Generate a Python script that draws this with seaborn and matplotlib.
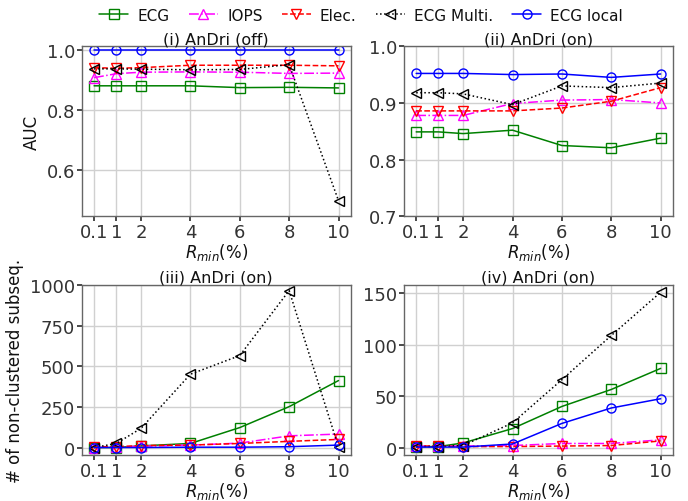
import matplotlib
matplotlib.use("Agg")
import matplotlib.pyplot as plt
import seaborn as sns
import numpy as np

r_min = [0.1, 1, 2, 4, 6, 8, 10]
tick_labels = ["0.1", "1", "2", "4", "6", "8", "10"]
series_names = ["ECG", "IOPS", "Elec.", "ECG Multi.", "ECG local"]

# (i) AUC, AnDri off
auc_off = {
    "ECG":        [0.880, 0.880, 0.880, 0.880, 0.874, 0.875, 0.873],
    "IOPS":       [0.907, 0.920, 0.925, 0.926, 0.925, 0.921, 0.922],
    "Elec.":      [0.940, 0.938, 0.940, 0.948, 0.948, 0.948, 0.946],
    "ECG Multi.": [0.936, 0.936, 0.935, 0.933, 0.934, 0.950, 0.500],
    "ECG local":  [0.997, 0.997, 0.997, 0.997, 0.997, 0.997, 0.997],
}
# (ii) AUC, AnDri on
auc_on = {
    "ECG":        [0.849, 0.849, 0.846, 0.852, 0.825, 0.821, 0.838],
    "IOPS":       [0.878, 0.878, 0.878, 0.899, 0.905, 0.906, 0.900],
    "Elec.":      [0.886, 0.886, 0.886, 0.886, 0.891, 0.903, 0.927],
    "ECG Multi.": [0.918, 0.918, 0.916, 0.897, 0.930, 0.927, 0.935],
    "ECG local":  [0.952, 0.952, 0.952, 0.950, 0.951, 0.945, 0.951],
}
# (iii) # of non-clustered subsequences
nc_iii = {
    "ECG":        [0, 0, 10, 25, 123, 252, 413],
    "IOPS":       [0, 3, 8, 15, 27, 72, 83],
    "Elec.":      [5, 5, 12, 15, 25, 38, 50],
    "ECG Multi.": [0, 25, 118, 452, 567, 968, 2],
    "ECG local":  [0, 0, 0, 2, 2, 5, 15],
}
# (iv) # of non-clustered subsequences
nc_iv = {
    "ECG":        [1, 1, 4.5, 18.5, 40, 56.5, 77],
    "IOPS":       [1.5, 1.5, 1.5, 2, 4, 4, 7.5],
    "Elec.":      [1.5, 1.5, 1, 1, 1.5, 2, 6.5],
    "ECG Multi.": [1, 1, 2, 24, 66, 109, 151],
    "ECG local":  [0.5, 0.5, 0.5, 3.5, 23.5, 38.5, 47.5],
}

styles = {
    "ECG":        dict(color="#008000", linestyle="-", marker="s"),
    "IOPS":       dict(color="#ff00ff", linestyle="-.", marker="^"),
    "Elec.":      dict(color="#ff0000", linestyle="--", marker="v"),
    "ECG Multi.": dict(color="#000000", linestyle=":", marker="<"),
    "ECG local":  dict(color="#0000ff", linestyle="-", marker="o"),
}

sns.set_theme(style="whitegrid", color_codes=False, rc={
    "axes.edgecolor": "#666666",
    "axes.linewidth": 1.0,
    "grid.color": "#d0d0d0",
    "grid.linewidth": 1.0,
    "xtick.bottom": True,
    "ytick.left": True,
    "xtick.color": "#333333",
    "ytick.color": "#333333",
    "xtick.major.size": 3.5,
    "ytick.major.size": 3.5,
    "text.color": "#111111",
    "axes.labelcolor": "#111111",
})
plt.rcParams["font.family"] = ["DejaVu Sans"]

fig, axes = plt.subplots(2, 2, figsize=(6.88, 5.02), dpi=100)
plt.subplots_adjust(left=0.119, right=0.978, top=0.906, bottom=0.092,
                    wspace=0.198, hspace=0.40)

panels = [
    (axes[0, 0], auc_off, "(i) AnDri (off)"),
    (axes[0, 1], auc_on, "(ii) AnDri (on)"),
    (axes[1, 0], nc_iii, "(iii) AnDri (on)"),
    (axes[1, 1], nc_iv, "(iv) AnDri (on)"),
]

for ax, data, title in panels:
    for name in series_names:
        st = styles[name]
        sns.lineplot(x=r_min, y=data[name], ax=ax, color=st["color"],
                     linestyle=st["linestyle"], marker=st["marker"],
                     markersize=6.5, markerfacecolor="none",
                     markeredgecolor=st["color"], markeredgewidth=1.0,
                     linewidth=1.1, label=name, legend=False)
    ax.set_title(title, fontsize=11.5, pad=2)
    ax.set_xticks(r_min)
    ax.set_xticklabels(tick_labels)
    ax.tick_params(axis="both", labelsize=13, pad=1.5)
    ax.set_xlabel("$R_{min}$(%)", fontsize=12, labelpad=0)
    ax.set_ylabel("")
    for s in ax.spines.values():
        s.set_visible(True)

axes[0, 0].set_ylim(0.448, 1.011)
axes[0, 0].set_yticks([0.6, 0.8, 1.0])
axes[0, 1].set_ylim(0.7, 1.0)
axes[0, 1].set_yticks([0.7, 0.8, 0.9, 1.0])
axes[1, 0].set_ylim(-45, 1005)
axes[1, 0].set_yticks([0, 250, 500, 750, 1000])
axes[1, 1].set_yticks([0, 50, 100, 150])

axes[0, 0].set_ylabel("AUC", fontsize=12)
axes[1, 0].set_ylabel("# of non-clustered subseq.", fontsize=12)

handles, labels = axes[0, 0].get_legend_handles_labels()
fig.legend(handles, labels, loc="upper center", bbox_to_anchor=(0.525, 1.01),
           ncol=5, frameon=False, fontsize=11, handlelength=1.9,
           columnspacing=1.25, handletextpad=0.6)

fig.savefig("out.png", dpi=100)
